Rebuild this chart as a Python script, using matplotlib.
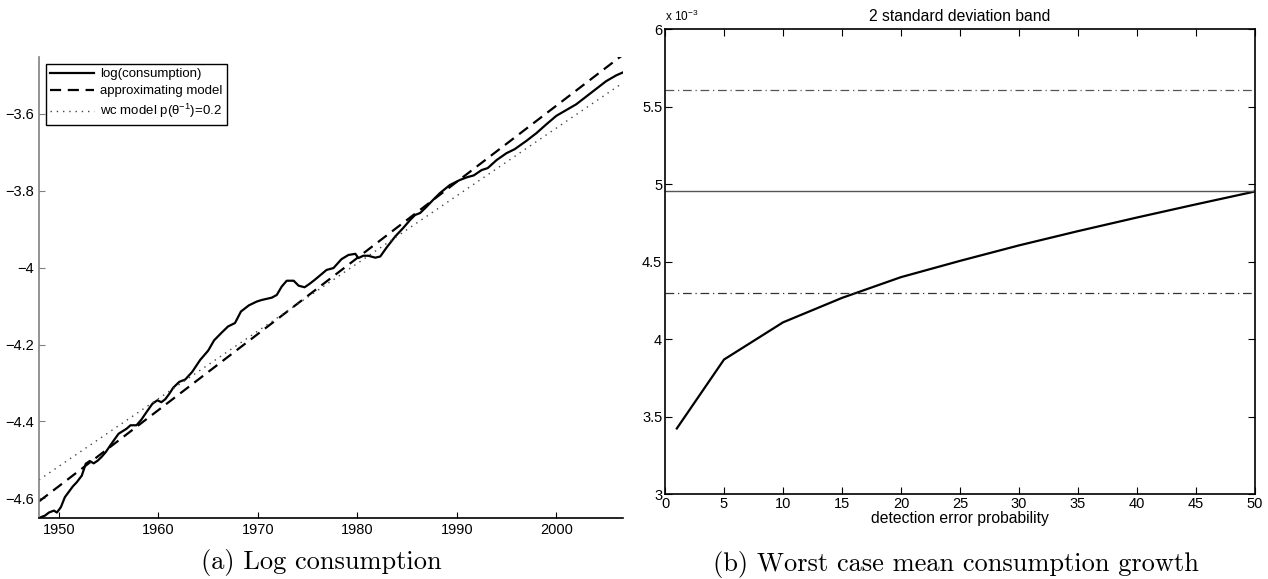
import matplotlib
matplotlib.use("Agg")
import matplotlib.pyplot as plt

plt.rcParams['font.family'] = ['Liberation Sans', 'DejaVu Sans']
plt.rcParams['mathtext.fontset'] = 'custom'
plt.rcParams['mathtext.rm'] = 'Liberation Sans'
plt.rcParams['mathtext.it'] = 'Liberation Sans:italic'

# log consumption
years = [1948.0, 1948.6, 1949.0, 1949.5, 1949.8, 1950.2, 1950.6, 1951.0, 1951.4, 1951.8,
         1952.3, 1952.7, 1953.1, 1953.5, 1953.9, 1954.3, 1954.7, 1955.5, 1956.0, 1956.8,
         1957.2, 1957.8, 1958.3, 1958.8, 1959.4, 1959.9, 1960.3, 1960.7, 1961.1, 1961.5,
         1962.1, 1962.7, 1963.4, 1964.2, 1965.0, 1965.6, 1966.4, 1967.0, 1967.7, 1968.3,
         1969.1, 1969.9, 1970.4, 1971.4, 1971.9, 1972.4, 1972.9, 1973.6, 1974.1, 1974.7,
         1975.2, 1975.7, 1976.9, 1977.6, 1978.4, 1979.1, 1979.8, 1980.1, 1980.6, 1981.1,
         1981.8, 1982.3, 1982.9, 1983.8, 1984.6, 1985.3, 1985.8, 1986.3, 1986.9, 1987.6,
         1988.3, 1989.3, 1990.3, 1991.0, 1991.7, 1992.5, 1993.1, 1994.0, 1995.0, 1995.8,
         1997.0, 1998.0, 1999.0, 2000.0, 2001.0, 2002.0, 2003.0, 2004.0, 2005.0, 2006.0,
         2006.7]
log_cons = [-4.651, -4.645, -4.637, -4.632, -4.637, -4.623, -4.597, -4.583, -4.569, -4.558,
            -4.541, -4.510, -4.503, -4.509, -4.502, -4.492, -4.480, -4.450, -4.432, -4.419,
            -4.410, -4.410, -4.395, -4.376, -4.354, -4.345, -4.350, -4.342, -4.328, -4.312,
            -4.297, -4.291, -4.271, -4.240, -4.216, -4.189, -4.168, -4.153, -4.144, -4.114,
            -4.098, -4.088, -4.084, -4.078, -4.071, -4.049, -4.034, -4.034, -4.047, -4.051,
            -4.042, -4.032, -4.006, -4.001, -3.978, -3.967, -3.964, -3.975, -3.969, -3.969,
            -3.974, -3.971, -3.949, -3.919, -3.897, -3.876, -3.863, -3.858, -3.843, -3.824,
            -3.806, -3.785, -3.772, -3.765, -3.760, -3.746, -3.741, -3.720, -3.702, -3.692,
            -3.670, -3.650, -3.627, -3.605, -3.590, -3.575, -3.555, -3.535, -3.515, -3.500,
            -3.492]

# straight model lines: end points
model_years = [1948.0, 2006.7]
approx_model = [-4.608, -3.446]
wc_model = [-4.552, -3.519]

year_ticks = [1950, 1960, 1970, 1980, 1990, 2000]
left_yticks = [-4.6, -4.4, -4.2, -4.0, -3.8, -3.6]
left_ylabels = ['\u22124.6', '\u22124.4', '\u22124.2', '\u22124', '\u22123.8', '\u22123.6']

# worst case mean consumption growth (x 10^-3)
det_err_prob = [1, 5, 10, 15, 20, 25, 30, 35, 40, 45, 50]
wc_mean = [3.423, 3.868, 4.108, 4.266, 4.400, 4.505, 4.605, 4.697, 4.785, 4.870, 4.953]
mean_growth = 4.953
band_lo = 4.297
band_hi = 5.608

prob_ticks = list(range(0, 55, 5))
right_yticks = [3, 3.5, 4, 4.5, 5, 5.5, 6]
right_ylabels = ['3', '3.5', '4', '4.5', '5', '5.5', '6']

W, H = 1268, 579
fig = plt.figure(figsize=(W / 100, H / 100), dpi=100)

# left panel
ax1 = fig.add_axes([39 / W, 1 - 518.3 / H, 584 / W, 461.3 / H])
ax1.plot(years, log_cons, color='black', lw=1.6, label='log(consumption)')
ax1.plot(model_years, approx_model, color='black', lw=1.6, ls=(0, (5, 3)),
         label='approximating model')
ax1.plot(model_years, wc_model, color='#444444', lw=1.0, ls=(0, (1, 3.5)),
         label='wc model p(\u03b8$^{-1}$)=0.2')
ax1.set_xlim(1948.0, 2006.7)
ax1.set_ylim(-4.652, -3.452)
ax1.set_xticks(year_ticks)
ax1.set_yticks(left_yticks)
ax1.set_yticklabels(left_ylabels)
ax1.spines['top'].set_visible(False)
ax1.spines['right'].set_visible(False)
ax1.spines['left'].set_color('#808080')
ax1.spines['left'].set_linewidth(1.2)
ax1.spines['bottom'].set_linewidth(1.2)
ax1.tick_params(direction='in', length=4, labelsize=10.5, width=0.8)
ax1.tick_params(axis='y', colors='#808080', labelcolor='black')
leg = ax1.legend(loc='upper left', bbox_to_anchor=(0, 1), fontsize=9.5,
                 fancybox=False, edgecolor='black', framealpha=1,
                 handlelength=3.3, handletextpad=0.5, borderpad=0.35,
                 labelspacing=0.35, borderaxespad=0.5)
leg.get_frame().set_linewidth(1.0)

# right panel
ax2 = fig.add_axes([665 / W, 1 - 494 / H, 590 / W, 464.7 / H])
ax2.plot(det_err_prob, wc_mean, color='black', lw=1.6)
ax2.axhline(mean_growth, color='#555555', lw=1.0)
ax2.axhline(band_lo, color='#333333', lw=0.9, ls=(0, (7, 3, 1, 3)))
ax2.axhline(band_hi, color='#555555', lw=0.9, ls=(0, (7, 3, 1, 3)))
ax2.set_xlim(0, 50)
ax2.set_ylim(3, 6)
ax2.set_xticks(prob_ticks)
ax2.set_yticks(right_yticks)
ax2.set_yticklabels(right_ylabels)
for s in ax2.spines.values():
    s.set_linewidth(1.2)
ax2.tick_params(direction='in', length=5, labelsize=10.5, width=0.8,
                top=True, right=True, pad=2)
ax2.set_xlabel('detection error probability', fontsize=11.3, labelpad=0)
ax2.set_title('2 standard deviation band', fontsize=11.3, pad=6)
ax2.text(0, 1.012, 'x 10$^{-3}$', transform=ax2.transAxes, fontsize=8.5,
         ha='left', va='bottom')

# sub-captions
fig.text(321 / W, 1 - 563 / H, '(a) Log consumption', family='cmr10',
         fontsize=19, ha='center', va='center')
fig.text(956 / W, 1 - 564 / H, '(b) Worst case mean consumption growth',
         family='cmr10', fontsize=19, ha='center', va='center')

fig.savefig('out.png', dpi=100)
